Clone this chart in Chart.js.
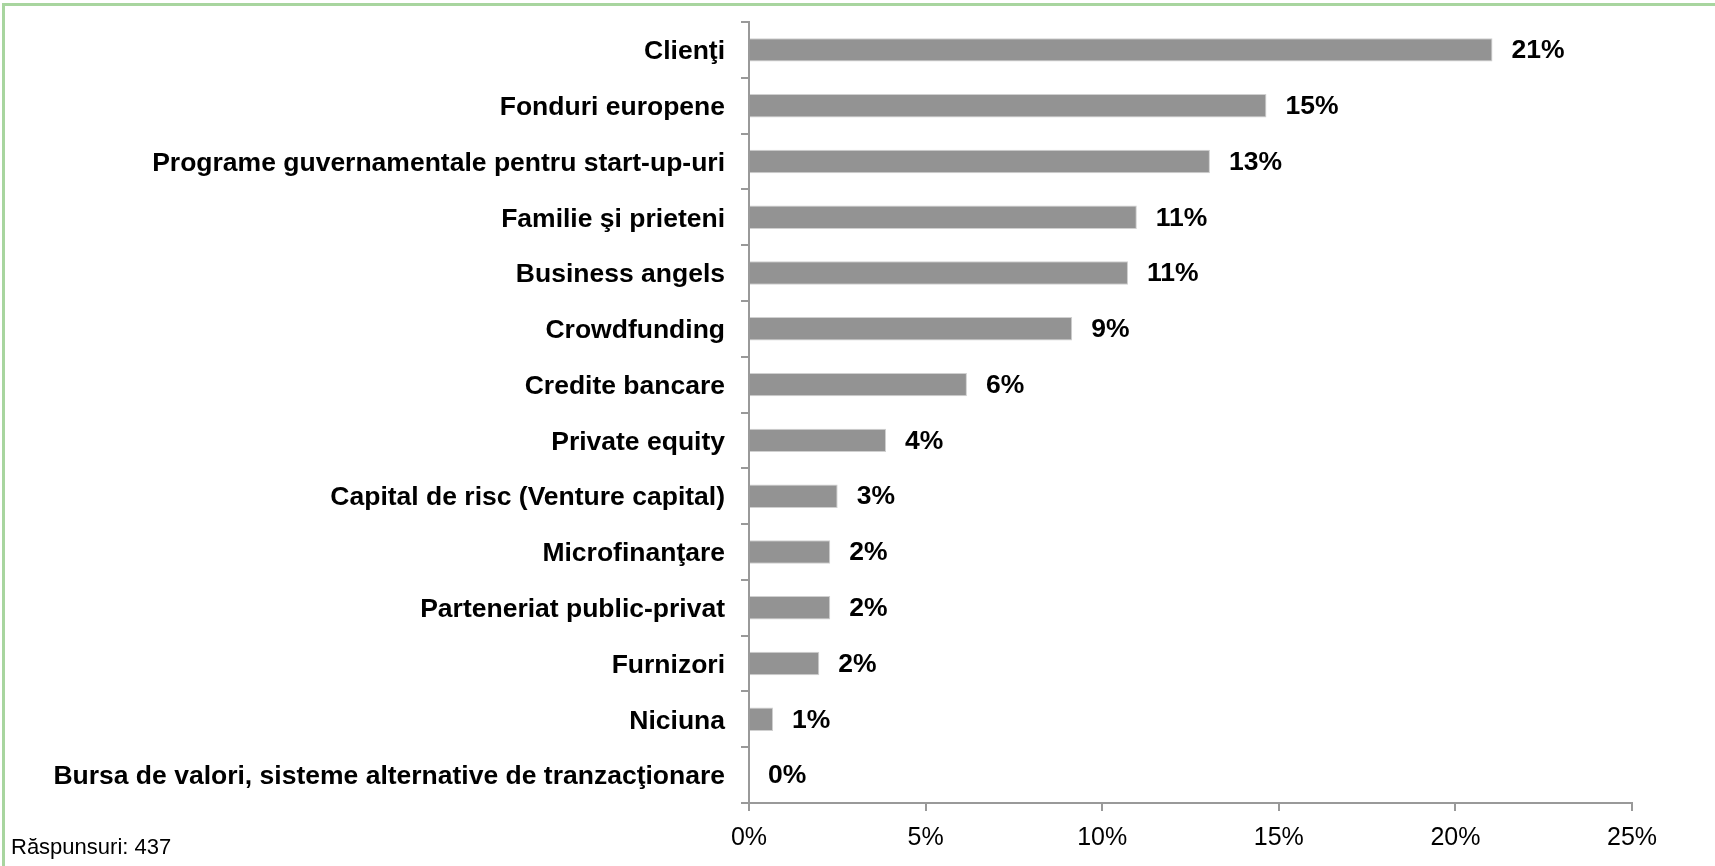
<!DOCTYPE html>
<html>
<head>
<meta charset="utf-8">
<script src="https://cdn.jsdelivr.net/npm/chart.js@4.4.1/dist/chart.umd.min.js"></script>
<style>
    html, body { margin: 0; padding: 0; background: #fff; }
    #frame {
        position: absolute; left: 2px; top: 3px; width: 1740px; height: 900px;
        border-top: 3px solid #a8d59f; border-left: 3px solid #a8d59f;
    }
    #wrap { position: absolute; left: 0; top: 0; width: 1715px; height: 866px; }
    #note {
        position: absolute; left: 11px; top: 834px;
        font-family: 'Liberation Sans', Arial, sans-serif; font-size: 22px; color: #000;
    }
</style>
</head>
<body>
<div id="frame"></div>
<div id="wrap"><canvas id="chartSurse"></canvas></div>
<div id="note">Răspunsuri: 437</div>
<script>
const categorii = [
    'Clienţi',
    'Fonduri europene',
    'Programe guvernamentale pentru start-up-uri',
    'Familie şi prieteni',
    'Business angels',
    'Crowdfunding',
    'Credite bancare',
    'Private equity',
    'Capital de risc (Venture capital)',
    'Microfinanţare',
    'Parteneriat public-privat',
    'Furnizori',
    'Niciuna',
    'Bursa de valori, sisteme alternative de tranzacţionare'
];
const procente = [21.05, 14.65, 13.05, 10.98, 10.73, 9.15, 6.17, 3.88, 2.51, 2.3, 2.3, 1.99, 0.68, 0];
const eticheteProcente = ['21%', '15%', '13%', '11%', '11%', '9%', '6%', '4%', '3%', '2%', '2%', '2%', '1%', '0%'];
const tickuriX = [0, 5, 10, 15, 20, 25];

const fontFam = "'Liberation Sans', Arial, sans-serif";

const valoriPlugin = {
    id: 'valori',
    afterDatasetsDraw(chart) {
        const ctx = chart.ctx;
        const meta = chart.getDatasetMeta(0);
        ctx.save();
        ctx.font = 'bold 26.5px ' + fontFam;
        ctx.fillStyle = '#000';
        ctx.textAlign = 'left';
        ctx.textBaseline = 'middle';
        meta.data.forEach(function(bar, i) {
            ctx.fillText(eticheteProcente[i], bar.x + 19, bar.y + 1);
        });
        ctx.restore();
    }
};

document.addEventListener('DOMContentLoaded', function() {
    const ctx = document.getElementById('chartSurse').getContext('2d');

    new Chart(ctx, {
        type: 'bar',
        data: {
            labels: categorii,
            datasets: [{
                data: procente,
                backgroundColor: '#939393',
                borderColor: '#d0d0d0',
                borderWidth: 1,
                barPercentage: 0.42,
                categoryPercentage: 1
            }]
        },
        options: {
            indexAxis: 'y',
            responsive: true,
            maintainAspectRatio: false,
            animation: false,
            layout: { padding: { top: 22, right: 83, left: 0, bottom: 0 } },
            plugins: {
                legend: { display: false },
                tooltip: { enabled: false }
            },
            scales: {
                x: {
                    min: 0,
                    max: 25,
                    afterBuildTicks: function(scale) {
                        scale.ticks = tickuriX.map(v => ({ value: v }));
                    },
                    afterFit: function(scale) { scale.height = 63; },
                    border: { color: '#999', width: 2 },
                    grid: { drawOnChartArea: false, color: '#999', tickLength: 8, lineWidth: 2 },
                    ticks: {
                        padding: 12,
                        maxRotation: 0,
                        color: '#000',
                        font: { family: fontFam, size: 25 },
                        callback: v => v + '%'
                    }
                },
                y: {
                    afterFit: function(scale) {
                        scale.width = 749;
                        scale.paddingTop = 0;
                        scale.paddingBottom = 0;
                    },
                    border: { color: '#999', width: 2 },
                    grid: { drawOnChartArea: false, color: '#999', tickLength: 8, lineWidth: 2, offset: true },
                    ticks: {
                        autoSkip: false,
                        padding: 16,
                        labelOffset: 2,
                        color: '#000',
                        font: { family: fontFam, size: 26.5, weight: 'bold' }
                    }
                }
            }
        },
        plugins: [valoriPlugin]
    });
});
</script>
</body>
</html>
